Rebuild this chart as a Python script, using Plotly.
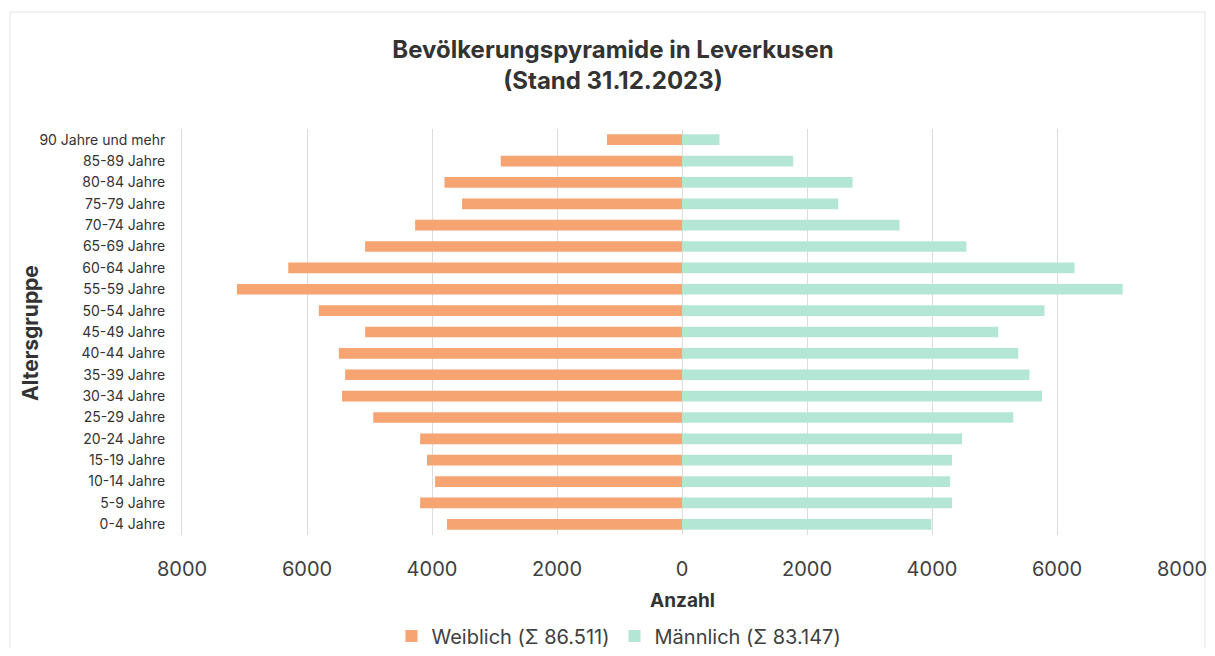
import plotly.graph_objects as go

age_groups = ["0-4 Jahre", "5-9 Jahre", "10-14 Jahre", "15-19 Jahre", "20-24 Jahre",
              "25-29 Jahre", "30-34 Jahre", "35-39 Jahre", "40-44 Jahre", "45-49 Jahre",
              "50-54 Jahre", "55-59 Jahre", "60-64 Jahre", "65-69 Jahre", "70-74 Jahre",
              "75-79 Jahre", "80-84 Jahre", "85-89 Jahre", "90 Jahre und mehr"]
weiblich = [3760, 4190, 3950, 4080, 4190, 4940, 5440, 5390, 5490, 5070,
            5810, 7120, 6300, 5070, 4270, 3520, 3800, 2900, 1200]
maennlich = [3990, 4320, 4290, 4320, 4480, 5300, 5760, 5560, 5380, 5060,
             5800, 7050, 6280, 4550, 3480, 2500, 2730, 1780, 600]
tick_vals = [-8000, -6000, -4000, -2000, 0, 2000, 4000, 6000, 8000]
tick_text = ["8000", "6000", "4000", "2000", "0", "2000", "4000", "6000", "8000"]

FONT = "Inter, Lato, sans-serif"
W, H = 1199, 640          # page has an 8px body margin
L, T, PW, PH = 174, 121, 1000, 406

fig = go.Figure()
fig.add_trace(go.Bar(y=age_groups, x=[-v for v in weiblich], orientation="h",
                     name="Weiblich (Σ 86.511)", marker=dict(color="#F5A472", line=dict(width=0)),
                     customdata=weiblich, hovertemplate="%{y}: %{customdata}<extra></extra>"))
fig.add_trace(go.Bar(y=age_groups, x=maennlich, orientation="h",
                     name="Männlich (Σ 83.147)", marker=dict(color="#B4E6D6", line=dict(width=0)),
                     hovertemplate="%{y}: %{x}<extra></extra>"))


def px_x(p):  # page pixel -> paper x
    return (p - 8 - L) / PW


def px_y(p):  # page pixel -> paper y
    return 1 - (p - 8 - T) / PH


fig.update_layout(
    width=W, height=H,
    barmode="relative", bargap=0.5,
    paper_bgcolor="white", plot_bgcolor="white",
    margin=dict(l=L, r=W - L - PW, t=T, b=H - T - PH, autoexpand=False),
    font=dict(family=FONT, color="#333333"),
    title=dict(text="<b>Bevölkerungspyramide in Leverkusen<br>(Stand 31.12.2023)</b>",
               x=(613 - 8) / W, xref="container", xanchor="center",
               y=1 - (58 - 8) / H, yref="container", yanchor="middle",
               font=dict(size=24, color="#333333", family=FONT)),
    xaxis=dict(range=[-8000, 8000], tickvals=tick_vals, ticktext=tick_text,
               showgrid=True, gridcolor="#DCDCDC", gridwidth=1,
               zeroline=True, zerolinecolor="#DCDCDC", zerolinewidth=1,
               tickfont=dict(size=20, color="#404040"), ticklabelstandoff=20,
               ticklabeloverflow="allow", automargin=False,
               showline=False, fixedrange=True),
    yaxis=dict(type="category", showgrid=False, showline=True, linecolor="#DCDCDC",
               linewidth=1, tickfont=dict(size=14, color="#333333"), ticks="",
               ticklabelstandoff=13, automargin=False),
    legend=dict(orientation="h", x=(619 - 8) / W, xref="container", xanchor="center",
                y=1 - (636 - 8) / H, yref="container", yanchor="middle",
                font=dict(size=20, color="#404040"), itemwidth=30,
                traceorder="normal"),
    annotations=[
        dict(text="<b>Anzahl</b>", xref="paper", yref="paper", x=0.5, y=px_y(600),
             xanchor="center", yanchor="middle", showarrow=False,
             font=dict(size=19, color="#333333")),
        dict(text="<b>Altersgruppe</b>", textangle=-90, xref="paper", yref="paper",
             x=px_x(30), y=px_y(333), xanchor="center", yanchor="middle",
             showarrow=False, font=dict(size=21, color="#333333")),
    ],
    shapes=[dict(type="rect", xref="paper", yref="paper",
                 x0=px_x(10), x1=px_x(1205), y0=px_y(650), y1=px_y(12),
                 line=dict(color="#E3E3E3", width=1), layer="below")],
)

fig.write_html("out.html")
